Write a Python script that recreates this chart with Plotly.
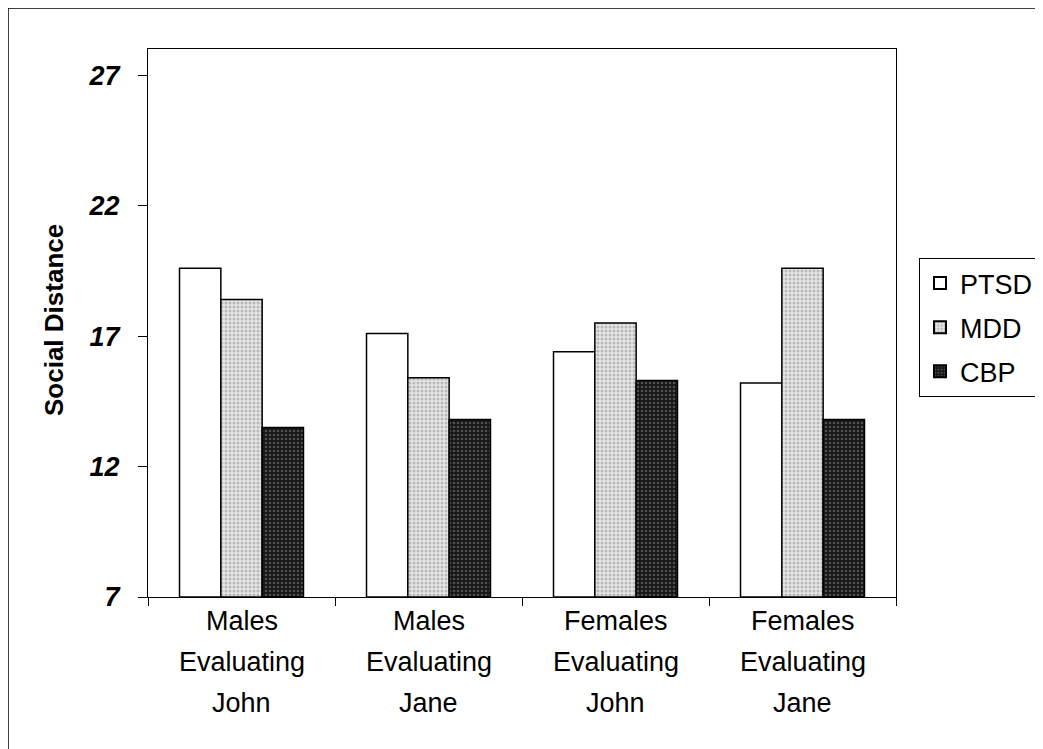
import plotly.graph_objects as go

categories = ["Males<br>Evaluating<br>John", "Males<br>Evaluating<br>Jane",
              "Females<br>Evaluating<br>John", "Females<br>Evaluating<br>Jane"]
ptsd = [19.6, 17.1, 16.4, 15.2]
mdd = [18.4, 15.4, 17.5, 19.6]
cbp = [13.5, 13.8, 15.3, 13.8]
y_ticks = [7, 12, 17, 22, 27]

base = 7
font_family = "Liberation Sans, Arial, sans-serif"

W, H = 1043, 749
L, R, T, B = 140, 155, 41, 160
pw, ph = W - L - R, H - T - B

fig = go.Figure()
fig.add_trace(go.Bar(
    name="PTSD", x=categories, y=[v - base for v in ptsd], base=base, legendgroup="a",
    marker=dict(color="white", line=dict(color="black", width=1.5)),
))
fig.add_trace(go.Bar(
    name="MDD", x=categories, y=[v - base for v in mdd], base=base, legendgroup="b",
    marker=dict(color="#cfcfcf", line=dict(color="black", width=1.5),
                pattern=dict(shape=".", fgcolor="#8a8a8a", bgcolor="#e6e6e6",
                             size=4, solidity=0.45)),
))
fig.add_trace(go.Bar(
    name="CBP", x=categories, y=[v - base for v in cbp], base=base, legendgroup="c",
    marker=dict(color="#2a2a2a", line=dict(color="black", width=1.5),
                pattern=dict(shape=".", fgcolor="#8a8a8a", bgcolor="#161616",
                             size=4, solidity=0.35)),
))

# category labels with wider line spacing, placed under each category
label_annotations = []
for cat in categories:
    for i, line in enumerate(cat.split("<br>")):
        label_annotations.append(dict(
            text=line, xref="x", yref="paper", x=cat, y=0,
            xanchor="center", yanchor="middle", yshift=-(24 + 41 * i),
            showarrow=False, font=dict(size=27, family=font_family)))

fig.update_layout(
    width=W, height=H,
    margin=dict(l=L, r=R, t=T, b=B, autoexpand=False),
    paper_bgcolor="white", plot_bgcolor="white",
    barmode="group", bargap=0.337, bargroupgap=0,
    font=dict(family=font_family, color="black"),
    showlegend=True,
    legend=dict(
        x=(911 - L) / pw, y=1 - (250 - T) / ph, xanchor="left", yanchor="top",
        bordercolor="black", borderwidth=1, bgcolor="white",
        font=dict(size=27, family=font_family),
        tracegroupgap=6, itemsizing="constant",
    ),
    xaxis=dict(
        showline=True, linecolor="black", linewidth=1, mirror=True,
        ticks="outside", tickson="boundaries", ticklen=8, tickcolor="black",
        showticklabels=False,
        showgrid=False,
    ),
    yaxis=dict(
        range=[7, 28], tickvals=y_ticks, ticktext=[str(v) for v in y_ticks],
        showline=True, linecolor="black", linewidth=1, mirror=True,
        ticks="outside", ticklen=9, tickcolor="black",
        tickfont=dict(size=27, family=font_family, weight="bold", style="italic"),
        ticklabelstandoff=13,
        showgrid=False, zeroline=False,
    ),
    annotations=[
        dict(text="Social Distance", xref="paper", yref="paper",
             x=(46 - L) / pw, y=1 - (312 - T) / ph, xanchor="center", yanchor="middle",
             textangle=-90, showarrow=False,
             font=dict(size=26, family=font_family, weight="bold")),
    ] + label_annotations,
    shapes=[
        dict(type="line", xref="paper", yref="paper",
             x0=(0 - L) / pw, x1=(0 - L) / pw, y0=1 + T / ph, y1=-(B) / ph,
             line=dict(color="black", width=1.5)),
        dict(type="line", xref="paper", yref="paper",
             x0=(0 - L) / pw, x1=(W - L) / pw, y0=1 + T / ph, y1=1 + T / ph,
             line=dict(color="black", width=1.5)),
    ],
)

fig.write_html("out.html")
